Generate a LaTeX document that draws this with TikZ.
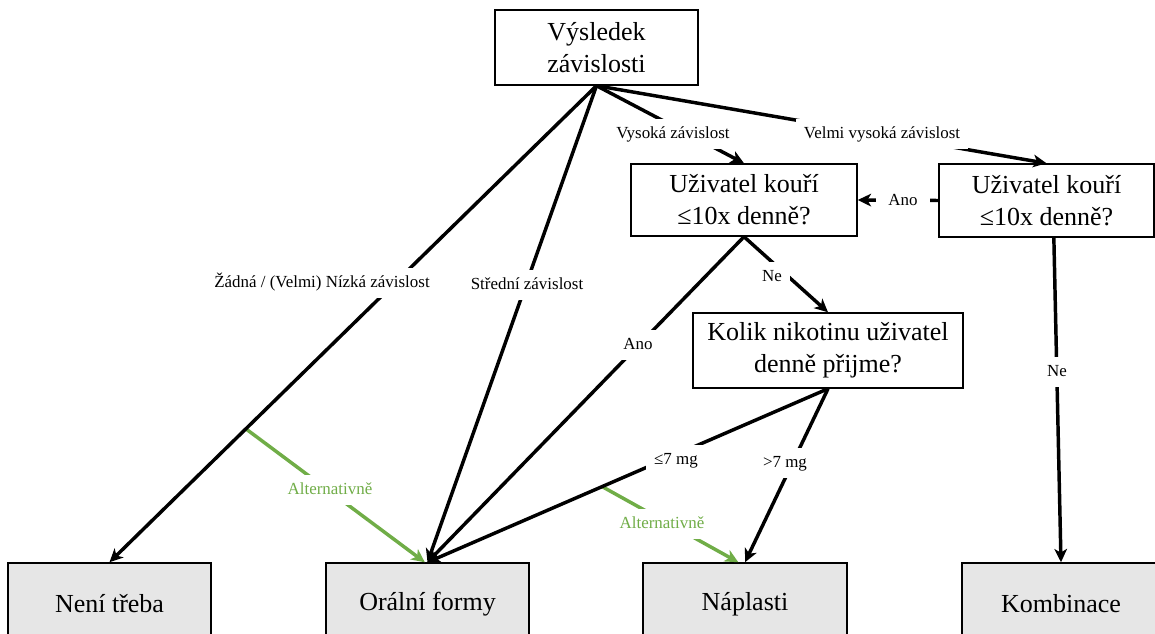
\documentclass[tikz,border=0pt]{standalone}
\usepackage{fontspec}
\setmainfont{Liberation Serif}
\usetikzlibrary{arrows.meta,calc}
\definecolor{boxgray}{HTML}{E6E6E6}
\definecolor{altgreen}{HTML}{70AD47}
\begin{document}
\begin{tikzpicture}[x=0.75pt,y=-0.75pt,
  box/.style={draw=black, line width=1.1pt, fill=white, align=center, inner sep=0pt,
    font=\fontsize{19.5}{24}\selectfont},
  endbox/.style={box, fill=boxgray},
  conn/.style={draw=black, line width=2.6pt, -{Stealth[length=10pt,width=9.5pt,inset=2.8pt]}},
  alt/.style={conn, draw=altgreen},
  lbl/.style={fill=white, inner xsep=6pt, inner ysep=5.5pt, text height=9pt, text depth=2.5pt,
    font=\fontsize{12.7}{15}\selectfont},
  altlbl/.style={lbl, text=altgreen}]
\path[use as bounding box] (0,0) rectangle (1155,634);
\clip (0,0) rectangle (1155,634);

% boxes
\node[box, minimum width=152.25pt, minimum height=56.25pt] (top) at (596.5,47.5) {Výsledek\\závislosti};
\node[box, minimum width=169.5pt, minimum height=54pt] (L) at (744,200) {Uživatel kouří\\≤10x denně?};
\node[box, minimum width=161.25pt, minimum height=54.75pt] (R) at (1046.5,200.5) {Uživatel kouří\\≤10x denně?};
\node[box, minimum width=202.5pt, minimum height=56.25pt] (K) at (828,350.5) {Kolik nikotinu uživatel\\denně přijme?};
\node[endbox, minimum width=152.25pt, minimum height=61.5pt] (nen) at (109.5,604) {Není třeba};
\node[endbox, minimum width=152.25pt, minimum height=61.5pt] (oral) at (427.5,604) {Orální formy};
\node[endbox, minimum width=153pt, minimum height=61.5pt] (nap) at (745,604) {Náplasti};
\node[endbox, minimum width=148.5pt, minimum height=61.5pt] (kom) at (1061,604) {Kombinace};

% helper coordinates on connectors
\path (top.south) -- coordinate[pos=0.72] (g1s) (nen.north);
\path (K.south) -- coordinate[pos=0.564] (g2s) (oral.north);

% green alternative arrows
\draw[alt] (g1s) -- ([xshift=-2pt]oral.north);
\draw[alt] (g2s) -- ([xshift=-5pt]nap.north);

% black connectors
\draw[conn] (top.south) -- (nen.north);
\draw[conn] (top.south) -- (oral.north);
\draw[conn] (top.south) -- (L.north);
\draw[conn] (top.south) -- (R.north);
\draw[conn] (R.west) -- (L.east);
\draw[conn] (L.south) -- (K.north);
\draw[conn] (L.south) -- (oral.north);
\draw[conn] (K.south) -- (oral.north);
\draw[conn] (K.south) -- (nap.north);
\draw[conn] ([xshift=5.5pt]R.south) -- (kom.north);

% labels
\node[lbl] (l1) at (322,283) {Žádná / (Velmi) Nízká závislost};
\node[lbl] (l2) at (527,285) {Střední závislost};
\node[lbl] (l3) at (673,134) {Vysoká závislost};
\node[lbl] (l4) at (882,134) {Velmi vysoká závislost};
\node[lbl, inner xsep=9pt] (l5) at (903,201) {Ano};
\node[lbl] (l6) at (772,277) {Ne};
\node[lbl] (l7) at (638,345) {Ano};
\node[lbl] (l8) at (676,460) {≤7 mg};
\node[lbl] (l9) at (785,463) {>7 mg};
\node[lbl] (l10) at (1057,372) {Ne};
\node[altlbl] (l11) at (330,490) {Alternativně};
\node[altlbl] (l12) at (662,524) {Alternativně};
\end{tikzpicture}
\end{document}
